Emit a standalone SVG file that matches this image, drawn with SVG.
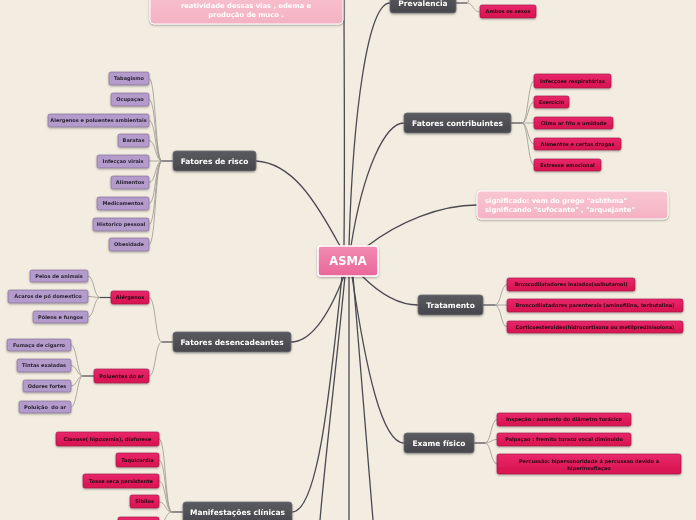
<svg xmlns="http://www.w3.org/2000/svg" width="696" height="520" viewBox="0 0 696 520">
<style>
text{font-family:"DejaVu Sans",Verdana,sans-serif;font-weight:bold;text-anchor:middle}
.main{fill:none;stroke:#4a4a50;stroke-width:1.3}
.stub{fill:none;stroke:#4a4a50;stroke-width:1.2}
.sub{fill:none;stroke:#9a958e;stroke-width:0.8}
.dark rect{fill:url(#gd);stroke:#6e6e73;stroke-width:0.8}
.dark text{fill:#fff;font-size:7.5px}
.pk rect{fill:url(#gp);stroke:#9c1343;stroke-width:0.6}
.pk text{fill:#2a0815;font-size:5px}
.pu rect{fill:#b39bcb;stroke:#7f6a91;stroke-width:0.6}
.pu text{fill:#2b2333;font-size:5px}
.lp rect{fill:url(#gl);stroke:#fff;stroke-width:1}
.lp text{fill:#fff;font-size:6.8px}
</style>
<defs>
<linearGradient id="gd" x1="0" y1="0" x2="0" y2="1"><stop offset="0" stop-color="#5a5a60"/><stop offset="1" stop-color="#46464b"/></linearGradient>
<linearGradient id="gp" x1="0" y1="0" x2="0" y2="1"><stop offset="0" stop-color="#e8286a"/><stop offset="1" stop-color="#d8124f"/></linearGradient>
<linearGradient id="gl" x1="0" y1="0" x2="0" y2="1"><stop offset="0" stop-color="#f9c6d2"/><stop offset="1" stop-color="#f4b2c3"/></linearGradient>
<linearGradient id="ga" x1="0" y1="0" x2="0" y2="1"><stop offset="0" stop-color="#f28bb0"/><stop offset="1" stop-color="#e9679a"/></linearGradient>
<filter id="sh" x="-10%" y="-30%" width="120%" height="170%"><feDropShadow dx="0" dy="1" stdDeviation="0.8" flood-color="#000" flood-opacity="0.35"/></filter>
</defs>
<rect width="696" height="520" fill="#f3ede1"/>

<g id="connectors">
<path class="main" d="M344,246 C345,150 344,60 344,0"/>
<path class="main" d="M349,246 C353,110 368,3 390,3"/>
<path class="main" d="M351,246 C363,170 385,123 404,123"/>
<path class="main" d="M366,247 C398,222 440,205 477,205"/>
<path class="main" d="M340,246 C315,200 292,163 256,161"/>
<path class="main" d="M362,276 C382,296 400,305 418,305"/>
<path class="main" d="M352,276 C366,370 382,443 404,443"/>
<path class="main" d="M344,276 C330,312 312,342 291,342"/>
<path class="main" d="M342,276 C330,390 318,512 292,512"/>
<path class="main" d="M345,276 C337,360 326,450 320,520"/>
<path class="main" d="M349,276 C349,360 349,450 349,520"/>
<path class="main" d="M353,276 C360,370 368,460 373,520"/>
<path class="stub" d="M456,3 H467"/>
<path class="sub" d="M467,3 C473,3 473,12 480,12"/>
<path class="sub" d="M467,3 C469,3 468,-4 472,-8"/>
<path class="stub" d="M511,123 H522"/>
<path class="sub" d="M522,123 C528,123 528,81 534,81"/>
<path class="sub" d="M522,123 C528,123 528,102 534,102"/>
<path class="sub" d="M522,123 H534"/>
<path class="sub" d="M522,123 C528,123 528,144 534,144"/>
<path class="sub" d="M522,123 C528,123 528,165 534,165"/>
<path class="stub" d="M483,305 H495"/>
<path class="sub" d="M495,305 C501,305 501,284.5 507,284.5"/>
<path class="sub" d="M495,305 H507"/>
<path class="sub" d="M495,305 C501,305 501,327 507,327"/>
<path class="stub" d="M474,443 H485"/>
<path class="sub" d="M485,443 C491,443 491,419.5 497,419.5"/>
<path class="sub" d="M485,443 C491,443 491,439.5 497,439.5"/>
<path class="sub" d="M485,443 C491,443 491,464 497,464"/>
<path class="stub" d="M173,161 H162"/>
<path class="sub" d="M162,161 C155,161 156,78.5 149,78.5"/>
<path class="sub" d="M162,161 C155,161 156,99.5 149,99.5"/>
<path class="sub" d="M162,161 C155,161 156,120.5 149,120.5"/>
<path class="sub" d="M162,161 C155,161 156,140.5 149,140.5"/>
<path class="sub" d="M162,161 H149"/>
<path class="sub" d="M162,161 C155,161 156,182.5 149,182.5"/>
<path class="sub" d="M162,161 C155,161 156,203.5 149,203.5"/>
<path class="sub" d="M162,161 C155,161 156,224.5 149,224.5"/>
<path class="sub" d="M162,161 C155,161 156,244.5 149,244.5"/>
<path class="stub" d="M173,342 H162"/>
<path class="sub" d="M162,342 C155,342 156,297.5 149,297.5"/>
<path class="sub" d="M162,342 C155,342 156,376 149,376"/>
<path class="stub" d="M111,297.5 H100"/>
<path class="sub" d="M100,297.5 C94,297.5 94,276 88,276"/>
<path class="sub" d="M100,297.5 C94,297.5 94,296.5 88,296.5"/>
<path class="sub" d="M100,297.5 C94,297.5 94,317 88,317"/>
<path class="stub" d="M94,376 H83"/>
<path class="sub" d="M83,376 C77,376 77,345 71,345"/>
<path class="sub" d="M83,376 C77,376 77,365.5 71,365.5"/>
<path class="sub" d="M83,376 C77,376 77,386 71,386"/>
<path class="sub" d="M83,376 C77,376 77,407 71,407"/>
<path class="stub" d="M183,512 H172"/>
<path class="sub" d="M172,512 C165,512 166,439 159,439"/>
<path class="sub" d="M172,512 C165,512 166,460 159,460"/>
<path class="sub" d="M172,512 C165,512 166,481 159,481"/>
<path class="sub" d="M172,512 C165,512 166,502 159,502"/>
<path class="sub" d="M172,512 C165,512 166,524 159,524"/>
</g>

<g id="definicao" class="lp" filter="url(#sh)"><rect x="150" y="-20" width="193" height="44" rx="4"/><text x="246" y="8">reatividade dessas vias , edema e</text><text x="246" y="17.3">produção de muco .</text></g>
<g id="significado" class="lp" filter="url(#sh)"><rect x="477" y="191" width="191" height="28" rx="4"/><text x="485" y="203" style="text-anchor:start">significado: vem do grego "ashthma"</text><text x="485" y="212" style="text-anchor:start">significando "sufocante" , "arquejante"</text></g>

<g id="asma" filter="url(#sh)"><rect x="318" y="246" width="60" height="30" rx="3" fill="url(#ga)" stroke="#fff" stroke-width="1.5"/><text x="348" y="265.2" style="font-size:11.5px;fill:#fff">ASMA</text></g>

<g id="prevalencia" class="dark" filter="url(#sh)"><rect x="390" y="-7" width="66" height="20" rx="3"/><text x="423" y="5.7">Prevalencia</text></g>
<g id="ambos" class="pk" filter="url(#sh)"><rect x="480" y="5" width="56" height="13" rx="2"/><text x="508" y="13.3">Ambos os sexos</text></g>

<g id="fatores-contribuintes" class="dark" filter="url(#sh)"><rect x="404" y="113" width="107" height="20" rx="3"/><text x="457.5" y="125.7">Fatores contribuintes</text></g>
<g id="fc1" class="pk" filter="url(#sh)"><rect x="534" y="74" width="77" height="14" rx="2"/><text x="572.5" y="82.8">Infecçoes respiratórias</text></g>
<g id="fc2" class="pk" filter="url(#sh)"><rect x="534" y="96" width="35" height="12" rx="2"/><text x="551.5" y="103.8">Exercício</text></g>
<g id="fc3" class="pk" filter="url(#sh)"><rect x="534" y="117" width="79" height="12" rx="2"/><text x="573.5" y="124.8">Clima ar frio e umidade</text></g>
<g id="fc4" class="pk" filter="url(#sh)"><rect x="534" y="138" width="87" height="12" rx="2"/><text x="577.5" y="145.8">Alimentos e certas drogas</text></g>
<g id="fc5" class="pk" filter="url(#sh)"><rect x="534" y="159" width="67" height="12" rx="2"/><text x="567.5" y="166.8">Estresse emocional</text></g>

<g id="tratamento" class="dark" filter="url(#sh)"><rect x="418" y="295" width="65" height="20" rx="3"/><text x="450.5" y="307.7">Tratamento</text></g>
<g id="tr1" class="pk" filter="url(#sh)"><rect x="507" y="278" width="128" height="13" rx="2"/><text x="571" y="286.3">Broncodilatadores inalados(salbutamol)</text></g>
<g id="tr2" class="pk" filter="url(#sh)"><rect x="507" y="299" width="176" height="13" rx="2"/><text x="595" y="307.3">Broncodilatadores parenterais (aminofilina, terbutalina)</text></g>
<g id="tr3" class="pk" filter="url(#sh)"><rect x="507" y="321" width="176" height="12" rx="2"/><text x="595" y="328.8">Corticoesteroides(hidrocortisona ou metilpredinisolona)</text></g>

<g id="exame" class="dark" filter="url(#sh)"><rect x="404" y="433" width="70" height="20" rx="3"/><text x="439" y="445.7">Exame físico</text></g>
<g id="ex1" class="pk" filter="url(#sh)"><rect x="497" y="413" width="134" height="13" rx="2"/><text x="564" y="421.3">Inspeção : aumento do diâmetro torácico</text></g>
<g id="ex2" class="pk" filter="url(#sh)"><rect x="497" y="433" width="134" height="13" rx="2"/><text x="564" y="441.3">Palpaçao : fremito toraco vocal diminuido</text></g>
<g id="ex3" class="pk" filter="url(#sh)"><rect x="497" y="454" width="184" height="20" rx="2"/><text x="589" y="462.8">Percussão: hipersonoridade á percussao devido a</text><text x="589" y="469.8">hiperinsuflaçao</text></g>

<g id="fatores-risco" class="dark" filter="url(#sh)"><rect x="173" y="151" width="83" height="20" rx="3"/><text x="214.5" y="163.7">Fatores de risco</text></g>
<g id="fr1" class="pu" filter="url(#sh)"><rect x="109" y="72" width="40" height="13" rx="2"/><text x="129" y="80.3">Tabagismo</text></g>
<g id="fr2" class="pu" filter="url(#sh)"><rect x="111" y="93" width="38" height="13" rx="2"/><text x="130" y="101.3">Ocupaçao</text></g>
<g id="fr3" class="pu" filter="url(#sh)"><rect x="48" y="114" width="101" height="13" rx="2"/><text x="98.5" y="122.3">Alergenos e poluentes ambientais</text></g>
<g id="fr4" class="pu" filter="url(#sh)"><rect x="118" y="134" width="31" height="13" rx="2"/><text x="133.5" y="142.3">Baratas</text></g>
<g id="fr5" class="pu" filter="url(#sh)"><rect x="97" y="155" width="52" height="13" rx="2"/><text x="123" y="163.3">Infecçao virais</text></g>
<g id="fr6" class="pu" filter="url(#sh)"><rect x="111" y="176" width="38" height="13" rx="2"/><text x="130" y="184.3">Alimentos</text></g>
<g id="fr7" class="pu" filter="url(#sh)"><rect x="97" y="197" width="52" height="13" rx="2"/><text x="123" y="205.3">Medicamentos</text></g>
<g id="fr8" class="pu" filter="url(#sh)"><rect x="93" y="218" width="56" height="13" rx="2"/><text x="121" y="226.3">Historico pessoal</text></g>
<g id="fr9" class="pu" filter="url(#sh)"><rect x="109" y="238" width="40" height="13" rx="2"/><text x="129" y="246.3">Obesidade</text></g>

<g id="fatores-desencadeantes" class="dark" filter="url(#sh)"><rect x="173" y="332" width="118" height="20" rx="3"/><text x="232" y="344.7">Fatores desencadeantes</text></g>
<g id="alergenos" class="pk" filter="url(#sh)"><rect x="111" y="291" width="38" height="13" rx="2"/><text x="130" y="299.3">Alérgenos</text></g>
<g id="al1" class="pu" filter="url(#sh)"><rect x="30" y="270" width="58" height="12" rx="2"/><text x="59" y="277.8">Pelos de animais</text></g>
<g id="al2" class="pu" filter="url(#sh)"><rect x="8" y="290" width="80" height="13" rx="2"/><text x="48" y="298.3">Ácaros de pó domestico</text></g>
<g id="al3" class="pu" filter="url(#sh)"><rect x="33" y="311" width="55" height="12" rx="2"/><text x="60.5" y="318.8">Pólens e fungos</text></g>
<g id="poluentes" class="pk" filter="url(#sh)"><rect x="94" y="369" width="55" height="14" rx="2"/><text x="121.5" y="377.8">Poluentes do ar</text></g>
<g id="po1" class="pu" filter="url(#sh)"><rect x="7" y="339" width="64" height="12" rx="2"/><text x="39" y="346.8">Fumaça de cigarro</text></g>
<g id="po2" class="pu" filter="url(#sh)"><rect x="17" y="359" width="54" height="13" rx="2"/><text x="44" y="367.3">Tintas exaladas</text></g>
<g id="po3" class="pu" filter="url(#sh)"><rect x="23" y="380" width="48" height="12" rx="2"/><text x="47" y="387.8">Odores fortes</text></g>
<g id="po4" class="pu" filter="url(#sh)"><rect x="19" y="401" width="52" height="12" rx="2"/><text x="45" y="408.8" style="white-space:pre" xml:space="preserve">Poluição  do ar</text></g>

<g id="manifestacoes" class="dark" filter="url(#sh)"><rect x="183" y="502" width="109" height="22" rx="3"/><text x="237.5" y="514.7">Manifestações clínicas</text></g>
<g id="mc1" class="pk" filter="url(#sh)"><rect x="56" y="432" width="103" height="14" rx="2"/><text x="107.5" y="440.8">Cianose( hipoxemia), diaforese</text></g>
<g id="mc2" class="pk" filter="url(#sh)"><rect x="116" y="453" width="43" height="14" rx="2"/><text x="137.5" y="461.8">Taquicardia</text></g>
<g id="mc3" class="pk" filter="url(#sh)"><rect x="83" y="474" width="76" height="14" rx="2"/><text x="121" y="482.8">Tosse seca persistente</text></g>
<g id="mc4" class="pk" filter="url(#sh)"><rect x="130" y="495" width="29" height="13" rx="2"/><text x="144.5" y="503.3">Sibilos</text></g>
<g id="mc5" class="pk" filter="url(#sh)"><rect x="118" y="517" width="41" height="14" rx="2"/></g>
</svg>
